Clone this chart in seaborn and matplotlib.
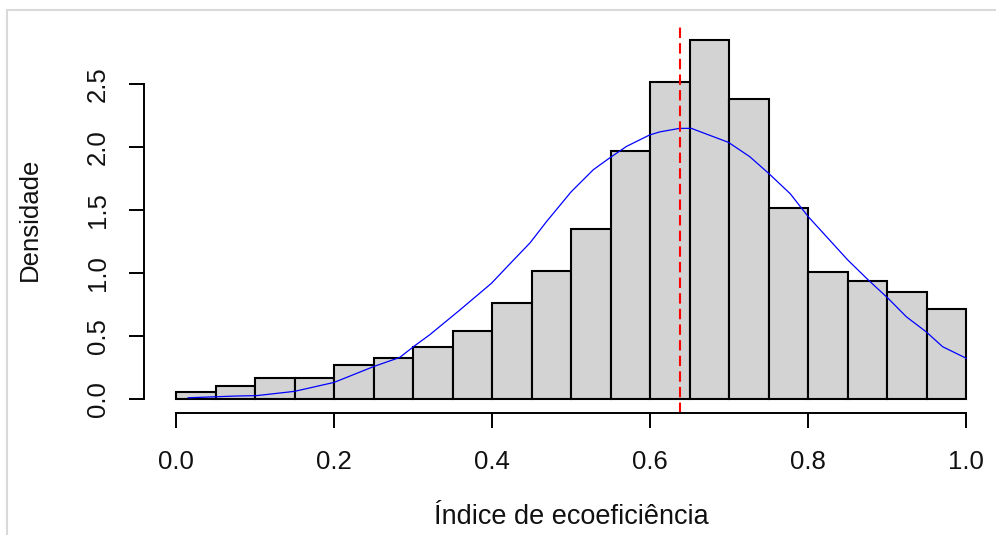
import matplotlib
matplotlib.use("Agg")
import matplotlib.pyplot as plt
from matplotlib.lines import Line2D
import seaborn as sns
import pandas as pd

# ---- data ----
bin_edges = [0.00, 0.05, 0.10, 0.15, 0.20, 0.25, 0.30, 0.35, 0.40, 0.45, 0.50,
             0.55, 0.60, 0.65, 0.70, 0.75, 0.80, 0.85, 0.90, 0.95, 1.00]
bin_density = [0.058, 0.106, 0.167, 0.167, 0.270, 0.325, 0.413, 0.542, 0.762, 1.018,
               1.347, 1.966, 2.516, 2.852, 2.381, 1.516, 1.010, 0.937, 0.849, 0.714]

curve_x = [0.015, 0.077, 0.102, 0.150, 0.200, 0.251, 0.283, 0.302, 0.321, 0.359,
           0.399, 0.422, 0.448, 0.469, 0.500, 0.528, 0.549, 0.570, 0.599, 0.612,
           0.637, 0.652, 0.699, 0.726, 0.750, 0.777, 0.800, 0.850, 0.876, 0.901,
           0.924, 0.949, 0.970, 1.000]
curve_y = [0.010, 0.024, 0.027, 0.061, 0.132, 0.260, 0.330, 0.423, 0.510, 0.706,
           0.918, 1.070, 1.240, 1.410, 1.645, 1.820, 1.915, 2.005, 2.095, 2.120,
           2.148, 2.148, 2.037, 1.923, 1.790, 1.630, 1.447, 1.103, 0.944, 0.799,
           0.653, 0.534, 0.415, 0.323]

mean_line = 0.638

x_ticks = [0.0, 0.2, 0.4, 0.6, 0.8, 1.0]
x_ticklabels = ["0.0", "0.2", "0.4", "0.6", "0.8", "1.0"]
y_ticks = [0.0, 0.5, 1.0, 1.5, 2.0, 2.5]
y_ticklabels = ["0.0", "0.5", "1.0", "1.5", "2.0", "2.5"]
x_label = "Índice de ecoeficiência"
y_label = "Densidade"

# ---- style ----
sns.set_style("white")
plt.rcParams["font.family"] = ["Liberation Sans", "DejaVu Sans"]
FS = 18.5

bins_df = pd.DataFrame({
    "mid": [(a + b) / 2 for a, b in zip(bin_edges[:-1], bin_edges[1:])],
    "dens": bin_density,
})
curve_df = pd.DataFrame({"x": curve_x, "y": curve_y})

fig = plt.figure(figsize=(9.96, 5.35), dpi=100)
ax = fig.add_axes([0.145, 0.2273, 0.857, 0.7254])

sns.histplot(data=bins_df, x="mid", weights="dens", bins=bin_edges, stat="count",
             color="#D3D3D3", edgecolor="black", linewidth=1.5, alpha=1, ax=ax)
sns.lineplot(data=curve_df, x="x", y="y", color="blue", linewidth=0.9, ax=ax)
ax.axvline(mean_line, color="red", linewidth=1.5, dashes=(5, 2.5))

ax.set_xlim(-0.04, 1.04)
ax.set_ylim(-0.114, 2.966)

for s in ["top", "right"]:
    ax.spines[s].set_visible(False)
for s in ["left", "bottom"]:
    ax.spines[s].set_color("black")
    ax.spines[s].set_linewidth(1.4)
ax.spines["left"].set_bounds(0.0, 2.5)
ax.spines["bottom"].set_bounds(0.0, 1.0)

ax.set_xticks(x_ticks)
ax.set_xticklabels(x_ticklabels, fontsize=FS, color="#111111")
ax.set_yticks(y_ticks)
ax.set_yticklabels(y_ticklabels, fontsize=FS, color="#111111", rotation=90, va="center")
ax.tick_params(axis="both", direction="out", length=11, width=1.4, color="black",
               bottom=True, left=True)
ax.tick_params(axis="x", pad=15)
ax.tick_params(axis="y", pad=14)

ax.set_xlabel(x_label, fontsize=19.5, color="#111111")
ax.set_ylabel(y_label, fontsize=FS, color="#111111")
ax.xaxis.set_label_coords(0.5, -0.233)
ax.yaxis.set_label_coords(-0.12, 0.5)

# light screenshot frame
fig.add_artist(Line2D([7 / 996, 1.0], [1 - 10 / 535, 1 - 10 / 535],
                      transform=fig.transFigure, color="#d9d9d9", linewidth=1.5))
fig.add_artist(Line2D([7 / 996, 7 / 996], [0.0, 1 - 10 / 535],
                      transform=fig.transFigure, color="#d9d9d9", linewidth=1.5))

fig.savefig("out.png", dpi=100)
